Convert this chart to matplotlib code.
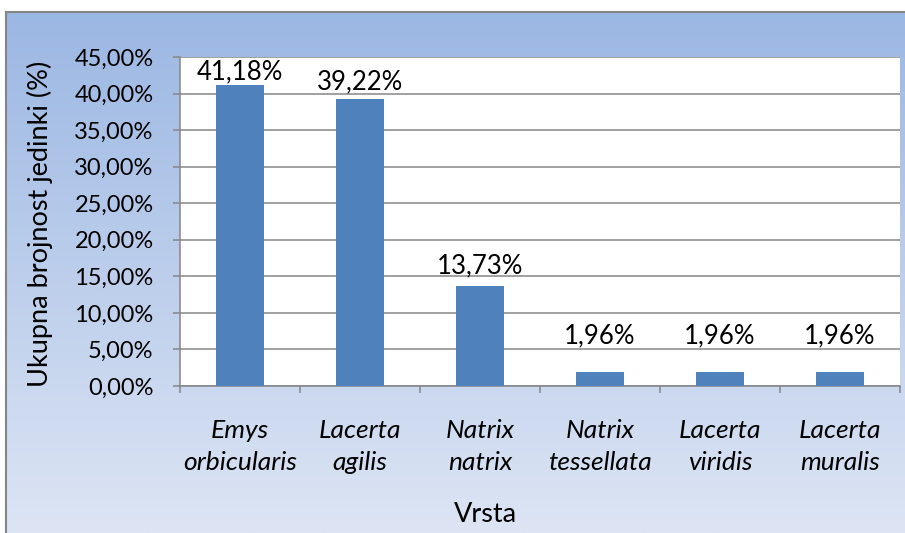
import numpy as np
import matplotlib.pyplot as plt
from matplotlib.lines import Line2D
from matplotlib.ticker import FixedLocator, FuncFormatter

# Podaci
vrste = ["Emys\norbicularis", "Lacerta\nagilis", "Natrix\nnatrix",
         "Natrix\ntessellata", "Lacerta\nviridis", "Lacerta\nmuralis"]
postotci = [41.18, 39.22, 13.73, 1.96, 1.96, 1.96]
oznake = ["41,18%", "39,22%", "13,73%", "1,96%", "1,96%", "1,96%"]
y_ticks = [0, 5, 10, 15, 20, 25, 30, 35, 40, 45]

# razmak oznake iznad stupca (u točkama), kao u originalu
pomak_oznaka = [0.5, 3.5, 5.5, 16.5, 16.5, 16.5]

plt.rcParams['font.family'] = ['Lato', 'DejaVu Sans']
W, H = 905, 533
fig = plt.figure(figsize=(W / 100, H / 100), dpi=100)

# pozadina s gradijentom
bg = fig.add_axes([6 / W, 0, 1 - 6 / W, (H - 12) / H])
top = np.array([155, 183, 227]) / 255
bot = np.array([221, 229, 244]) / 255
t = np.linspace(0, 1, 256)[:, None]
grad = top[None, :] * (1 - t) + bot[None, :] * t
bg.imshow(grad[:, None, :], aspect='auto', extent=[0, 1, 0, 1])
bg.set_axis_off()
fig.add_artist(Line2D([6 / W, 1], [(H - 12) / H] * 2, color='#858585', lw=1.5))
fig.add_artist(Line2D([6 / W] * 2, [0, (H - 12) / H], color='#858585', lw=1.5))

ax = fig.add_axes([180 / W, (H - 386) / H, 720 / W, 329 / H])
ax.set_facecolor('white')
x = np.arange(len(vrste))
ax.bar(x, postotci, width=0.4, color='#4F81BD', zorder=3)

for xi, v, lab, off in zip(x, postotci, oznake, pomak_oznaka):
    ax.annotate(lab, (xi, v), xytext=(0, off), textcoords='offset points',
                ha='center', va='bottom', fontsize=18.5, color='black', zorder=4)

ax.set_xlim(-0.5, len(vrste) - 0.5)
ax.set_ylim(0, 45)
ax.yaxis.set_major_locator(FixedLocator(y_ticks))
ax.yaxis.set_major_formatter(FuncFormatter(lambda v, p: f"{v:.2f}%".replace('.', ',')))
ax.yaxis.grid(True, color='#868686', lw=1.1, zorder=1)

ax.set_xticks(np.arange(len(vrste) + 1) - 0.5)
ax.set_xticklabels([])
ax.set_xticks(x, minor=True)
ax.set_xticklabels(vrste, minor=True, fontsize=19, style='italic', linespacing=1.45)
ax.tick_params(axis='x', which='major', direction='out', length=5, width=1.1, color='#868686')
ax.tick_params(axis='x', which='minor', length=0, pad=24)
ax.tick_params(axis='y', direction='out', length=5, width=1.1, color='#868686',
               labelsize=17, pad=14)

for s in ['top', 'right']:
    ax.spines[s].set_visible(False)
for s in ['left', 'bottom']:
    ax.spines[s].set_color('#868686')
    ax.spines[s].set_linewidth(1.1)

fig.text(40 / W, 1 - 224 / H, "Ukupna brojnost jedinki (%)", rotation=90,
         ha='center', va='center', fontsize=19.5)
fig.text(485 / W, 1 - 515 / H, "Vrsta", ha='center', va='center', fontsize=19.5)

fig.savefig("out.png", dpi=100)
